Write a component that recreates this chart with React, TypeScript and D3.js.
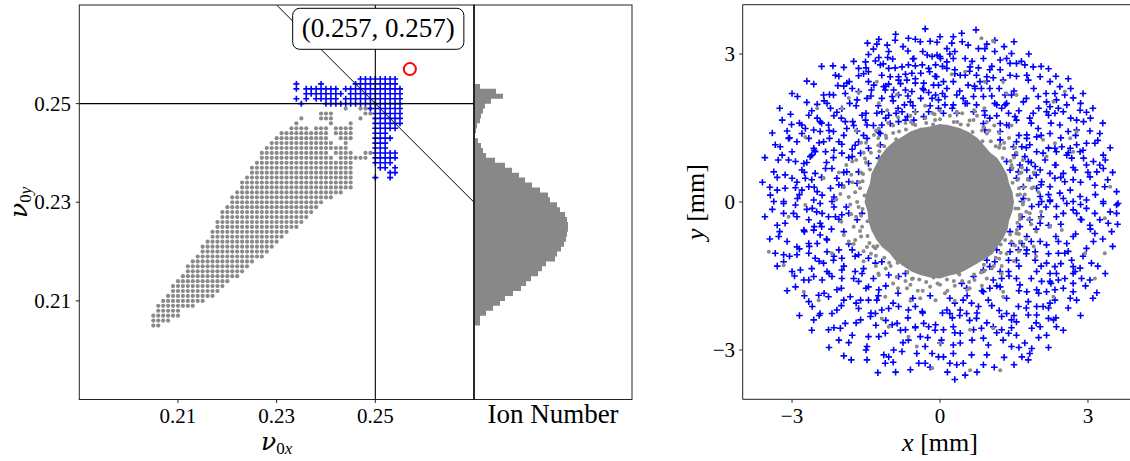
import React from "react";
import * as d3 from "d3";

// ---------------- Left panel: tune lattice (values in 1/1000 tune units) ----------------
// [nu_y, nu_x start, nu_x end] – surviving grid points (gray)
const grayRows: [number, number, number][] = [
  [205, 205, 206], [206, 205, 208], [207, 205, 210], [208, 206, 210], [209, 206, 213],
  [210, 207, 215], [211, 208, 217], [212, 209, 218], [213, 209, 219], [214, 210, 220],
  [215, 211, 222], [216, 212, 223], [217, 212, 224], [218, 213, 225], [219, 214, 227],
  [220, 215, 228], [221, 215, 229], [222, 216, 230], [223, 217, 231], [224, 217, 232],
  [225, 218, 234], [226, 218, 235], [227, 219, 236], [228, 219, 237], [229, 220, 238],
  [230, 221, 239], [231, 221, 241], [232, 222, 243], [233, 223, 245], [234, 223, 245],
  [235, 224, 245], [236, 225, 245], [237, 225, 245], [238, 226, 245],
  [239, 227, 241], [239, 243, 248],
  [240, 227, 240], [240, 242, 245], [240, 248, 249],
  [241, 228, 244],
  [242, 229, 241], [242, 244, 244],
  [243, 230, 240], [243, 243, 245],
  [244, 231, 240], [244, 242, 245],
  [245, 233, 236], [245, 238, 240], [245, 242, 245],
  [246, 234, 234], [246, 241, 241], [246, 245, 245],
  [247, 235, 235], [247, 239, 241], [247, 247, 247],
  [248, 239, 241], [248, 248, 249],
  [249, 244, 244], [249, 247, 249],
];
// [nu_y, nu_x start, nu_x end] – lost grid points (blue crosses)
const blueRows: [number, number, number][] = [
  [255, 247, 254],
  [254, 234, 234], [254, 239, 239], [254, 246, 254],
  [253, 234, 234], [253, 236, 242], [253, 244, 255],
  [252, 236, 243], [252, 245, 255],
  [251, 234, 234], [251, 236, 236], [251, 238, 242], [251, 244, 255],
  [250, 235, 235], [250, 240, 255],
  [249, 249, 255], [248, 250, 255], [247, 250, 255], [246, 250, 255],
  [245, 250, 254], [244, 250, 252], [243, 250, 253], [242, 250, 252],
  [241, 250, 252], [240, 250, 254], [239, 250, 254], [238, 250, 253],
  [237, 251, 252], [237, 254, 254], [236, 253, 254], [235, 250, 250], [235, 253, 253],
];
// histogram of nu_y: bins of 0.001 from 0.205 upward, ion number
const histBinStart = 0.205;
const histBinWidth = 0.001;
const histCounts = [
  60, 60, 120, 190, 260, 310, 390, 470, 520, 570, 640, 680, 720, 810, 830, 870,
  900, 920, 930, 940, 940, 930, 910, 860, 830, 760, 740, 660, 580, 510, 450, 380,
  310, 210, 120, 90, 70, 40, 10, 20, 30, 60, 70, 90, 110, 170, 290, 220, 60,
];
const histMax = 1580;
const xTicksL = [0.21, 0.23, 0.25];
const yTicksL = [0.21, 0.23, 0.25];
const workingPoint = { x: 0.257, y: 0.257 };
const crossTune = 0.25;
const resonanceSum = 0.5;

// ---------------- Right panel: transverse positions (mm) ----------------
const blueUL = [
  -0.30, 3.51, -1.24, 3.30, -0.91, 3.28, -0.64, 3.32, -0.50, 3.30, -0.40, 3.25, -0.20, 3.26, -0.06, 3.24,
  -1.47, 3.22, -1.28, 3.20, -1.07, 3.18, -1.04, 3.05, -1.45, 2.99, -1.24, 2.93, -1.06, 2.93, -0.96, 2.90,
  -0.65, 3.06, -0.53, 2.91, -0.26, 2.98, -0.16, 2.95, -0.06, 2.98, 0.01, 2.91, -1.51, 2.84, -1.31, 2.86,
  -1.65, 2.71, -1.50, 2.72, -1.21, 2.78, -1.04, 2.71, -0.91, 2.72, -0.77, 2.74, -0.64, 2.78, -0.50, 2.76,
  -0.36, 2.78, -0.23, 2.71, -0.09, 2.78, -2.17, 2.76, -1.95, 2.73, -2.12, 2.57, -1.84, 2.44, -1.65, 2.56,
  -1.45, 2.64, -1.18, 2.57, -1.01, 2.54, -0.84, 2.54, -0.70, 2.59, -0.57, 2.61, -0.39, 2.61, -0.21, 2.64,
  -0.07, 2.54, -0.03, 2.37, -2.56, 2.39, -2.07, 2.36, -1.89, 2.41, -1.78, 2.30, -1.45, 2.44, -1.34, 2.37,
  -1.14, 2.34, -1.04, 2.39, -0.84, 2.47, -0.67, 2.47, -0.50, 2.41, -0.33, 2.41, -0.13, 2.37, -2.89, 2.14,
  -2.36, 2.17, -2.24, 2.18, -2.16, 2.17, -1.92, 2.20, -1.65, 2.24, -1.39, 2.27, -1.11, 2.27, -0.94, 2.27,
  -0.70, 2.27, -0.57, 2.24, -0.33, 2.27, -0.23, 2.22, -0.09, 2.17, -2.70, 2.02, -2.49, 1.98, -2.29, 2.00,
  -2.22, 1.90, -1.99, 1.89, -1.83, 2.00, -1.68, 2.07, -1.48, 2.10, -1.18, 2.10, -0.97, 2.14, -0.84, 2.17,
  -0.72, 1.97, -0.60, 2.03, -0.39, 2.10, -0.16, 2.10, -0.03, 2.07, -3.03, 1.78, -3.20, 1.66, -2.66, 1.76,
  -2.49, 1.70, -2.43, 1.63, -2.09, 1.82, -1.92, 1.63, -1.77, 1.63, -1.58, 1.76, -1.51, 1.66, -1.28, 1.80,
  -1.18, 1.83, -1.04, 1.76, -0.89, 1.80, -0.77, 1.83, -0.66, 1.73, -0.50, 1.83, -0.33, 1.73, -0.23, 1.83,
  -0.03, 1.90, -3.01, 1.57, -3.10, 1.44, -2.80, 1.56, -2.73, 1.49, -2.56, 1.46, -2.43, 1.43, -2.26, 1.56,
  -2.16, 1.43, -1.89, 1.49, -1.68, 1.44, -1.48, 1.56, -1.24, 1.41, -1.18, 1.56, -1.01, 1.59, -0.84, 1.63,
  -0.70, 1.66, -0.53, 1.66, -3.34, 1.16, -3.24, 1.12, -3.07, 1.29, -3.00, 1.02, -2.90, 1.22, -2.80, 1.39,
  -2.66, 1.29, -2.56, 1.09, -2.36, 1.22, -2.24, 1.29, -2.05, 1.22, -1.99, 1.17, -1.78, 1.07, -1.65, 1.22,
  -1.48, 1.29, -1.21, 1.39, -3.28, 0.85, -3.07, 0.85, -2.93, 0.82, -2.76, 0.78, -2.63, 0.92, -2.53, 1.02,
  -2.32, 1.02, -2.16, 0.90, -1.99, 0.99, -1.78, 0.92, -1.61, 0.99, -1.45, 1.09, -1.21, 1.16, -3.37, 0.61,
  -3.14, 0.55, -3.00, 0.48, -2.80, 0.65, -2.73, 0.48, -2.53, 0.58, -2.32, 0.68, -2.19, 0.68, -2.09, 0.48,
  -1.89, 0.61, -1.65, 0.61, -1.45, 0.78, -1.24, 0.89, -3.44, 0.14, -3.30, 0.24, -3.14, 0.28, -2.93, 0.29,
  -2.80, 0.24, -2.66, 0.31, -2.49, 0.21, -2.39, 0.14, -2.22, 0.28, -1.99, 0.34, -1.85, 0.41, -1.68, 0.38,
  -3.37, 0.01, -3.17, 0.01, -2.89, 0.07, -2.56, 0.04, -2.43, -0.03, -2.19, 0.01,
];
const blueUR = [
  0.73, 3.49, 0.44, 3.42, 0.27, 3.35, 0.00, 3.35, 1.11, 3.28, 1.50, 3.25, 0.57, 3.18, 0.24, 3.22,
  0.14, 3.11, 0.91, 3.11, 0.78, 3.11, 0.30, 3.05, 1.11, 3.05, 1.45, 3.01, 1.35, 2.91, 0.00, 2.95,
  0.51, 2.91, 0.27, 2.91, 0.88, 2.91, 1.22, 2.88, 1.42, 2.81, 1.55, 2.81, 1.72, 2.78, 1.89, 2.74,
  0.14, 2.84, 0.14, 2.71, 0.30, 2.68, 0.61, 2.74, 0.78, 2.72, 0.41, 2.57, 0.51, 2.57, 0.74, 2.57,
  1.01, 2.68, 1.22, 2.68, 1.42, 2.57, 1.76, 2.57, 2.03, 2.54, 0.07, 2.44, 0.27, 2.44, 0.57, 2.37,
  0.81, 2.44, 0.95, 2.54, 1.08, 2.52, 1.28, 2.47, 1.79, 2.47, 2.23, 2.44, 2.43, 2.34, 0.14, 2.30,
  0.34, 2.17, 0.71, 2.30, 0.84, 2.30, 1.01, 2.30, 1.32, 2.17, 1.45, 2.17, 2.33, 2.20, 2.53, 2.17,
  0.10, 2.14, 0.47, 2.10, 0.68, 2.14, 0.88, 2.14, 1.69, 2.03, 2.16, 2.03, 2.36, 2.07, 2.70, 2.11,
  0.10, 1.97, 0.27, 1.97, 0.51, 2.00, 0.74, 1.97, 1.11, 2.00, 1.32, 1.97, 1.99, 2.14, 2.23, 1.93,
  2.57, 1.97, 0.07, 1.80, 0.34, 1.80, 0.68, 1.83, 0.91, 1.76, 1.15, 1.97, 1.25, 1.90, 1.39, 1.80,
  1.52, 1.73, 1.89, 1.80, 2.16, 1.83, 2.33, 1.80, 2.50, 1.83, 2.84, 1.86, 2.97, 1.82, 1.01, 1.70,
  0.88, 1.59, 1.22, 1.59, 1.55, 1.66, 1.82, 1.70, 2.20, 1.76, 2.77, 1.66, 2.91, 1.63, 0.91, 1.46,
  1.22, 1.43, 1.35, 1.56, 1.76, 1.36, 1.99, 1.49, 2.23, 1.39, 2.43, 1.56, 2.60, 1.43, 2.77, 1.46,
  3.04, 1.44, 3.24, 1.39, 1.22, 1.26, 1.55, 1.22, 1.76, 1.29, 1.96, 1.32, 1.49, 1.12, 1.66, 1.12,
  1.82, 1.16, 2.20, 1.09, 2.33, 1.09, 2.47, 1.12, 2.64, 1.09, 2.77, 1.16, 2.97, 1.19, 3.14, 1.19,
  1.52, 0.95, 1.72, 0.92, 1.96, 1.02, 2.09, 0.99, 2.36, 1.02, 2.57, 0.95, 2.84, 1.02, 3.31, 0.95,
  1.35, 0.82, 1.62, 0.75, 1.79, 0.82, 2.13, 0.85, 2.33, 0.75, 2.67, 0.89, 2.91, 0.89, 3.11, 0.82,
  3.24, 0.75, 1.42, 0.65, 1.59, 0.61, 1.76, 0.65, 1.93, 0.72, 2.03, 0.65, 2.23, 0.58, 2.50, 0.58,
  2.74, 0.65, 2.97, 0.75, 3.18, 0.61, 3.31, 0.68, 1.55, 0.48, 1.82, 0.48, 2.06, 0.41, 2.33, 0.48,
  2.53, 0.41, 2.70, 0.45, 3.04, 0.51, 3.14, 0.34, 3.34, 0.31, 3.58, 0.21, 1.69, 0.31, 1.96, 0.28,
  2.23, 0.31, 2.43, 0.18, 2.64, 0.24, 2.84, 0.11, 2.97, 0.04, 1.69, 0.07, 2.03, 0.11, 2.23, 0.01,
  2.50, 0.07, 2.70, 0.01, 3.31, 0.01, 3.61, -0.03,
];
const blueLL = [
  -3.17, -0.03, -2.93, -0.06, -3.17, -0.23, -2.97, -0.23, -3.30, -0.47, -3.14, -0.43, -2.59, -0.13, -2.39, -0.23,
  -2.66, -0.36, -2.43, -0.43, -2.26, -0.30, -2.12, -0.30, -1.99, -0.26, -1.85, -0.23, -1.68, -0.36, -1.58, -0.23,
  -2.76, -0.57, -2.56, -0.57, -2.43, -0.67, -3.27, -0.70, -3.10, -0.80, -2.90, -0.91, -2.66, -0.84, -2.49, -0.84,
  -2.29, -0.77, -2.05, -0.97, -2.29, -1.01, -1.78, -0.97, -1.65, -1.07, -1.45, -1.14, -1.31, -1.24, -1.18, -1.21,
  -3.34, -1.04, -3.17, -1.07, -3.17, -1.21, -2.90, -1.07, -2.66, -1.04, -2.53, -1.14, -2.36, -1.24, -2.16, -1.18,
  -1.99, -1.14, -3.00, -1.41, -2.83, -1.38, -2.66, -1.58, -2.56, -1.51, -2.93, -1.72, -2.76, -1.58, -2.39, -1.58,
  -2.29, -1.41, -2.19, -1.51, -1.99, -1.38, -1.99, -1.55, -1.72, -1.41, -1.58, -1.45, -1.65, -1.61, -1.45, -1.72,
  -1.24, -1.78, -1.04, -1.48, -0.84, -1.51, -0.70, -1.45, -2.66, -2.02, -2.46, -1.89, -2.26, -1.92, -2.09, -1.78,
  -2.59, -2.12, -2.43, -2.26, -2.19, -2.26, -2.09, -2.19, -1.95, -1.99, -1.82, -1.92, -1.61, -1.99, -1.45, -1.99,
  -1.28, -1.99, -1.65, -2.16, -1.41, -2.32, -1.31, -2.26, -1.18, -2.19, -1.04, -2.16, -0.84, -2.12, -0.64, -2.19,
  -0.50, -2.12, -0.36, -2.22, -2.56, -2.39, -2.26, -2.59, -2.02, -2.56, -1.92, -2.46, -1.78, -2.70, -1.61, -2.39,
  -1.45, -2.73, -1.24, -2.73, -1.11, -2.66, -0.97, -2.49, -0.87, -2.46, -0.70, -2.59, -0.50, -2.53, -0.33, -2.46,
  -0.23, -2.53, -0.09, -2.49, -2.05, -2.80, -1.95, -3.12, -1.48, -2.93, -1.48, -3.20, -1.14, -3.10, -1.04, -3.14,
  -0.94, -3.00, -0.77, -3.03, -0.64, -2.80, -0.47, -3.07, -0.40, -2.73, -0.30, -2.93, -0.16, -3.07, 0.01, -2.86,
  -1.26, -3.46, -1.11, -3.27, -0.43, -3.27, -0.30, -3.27, -0.03, -3.14,
];
const blueLR = [
  1.66, 0.01, 1.86, -0.09, 2.06, 0.01, 2.23, 0.04, 2.36, -0.09, 2.57, -0.03, 2.70, -0.16, 2.97, -0.13,
  3.14, -0.23, 3.31, -0.03, 3.58, -0.06, 3.58, -0.23, 1.66, -0.30, 1.82, -0.36, 2.03, -0.43, 2.20, -0.47,
  2.36, -0.30, 2.50, -0.23, 2.77, -0.23, 2.87, -0.36, 3.04, -0.47, 3.24, -0.36, 3.41, -0.43, 3.48, -0.60,
  3.14, -0.64, 1.42, -0.60, 1.62, -0.50, 1.45, -0.84, 1.66, -0.84, 1.76, -0.70, 2.03, -0.80, 2.16, -0.87,
  2.40, -0.80, 2.57, -0.84, 2.70, -0.70, 2.97, -0.94, 3.11, -0.80, 1.15, -0.97, 1.42, -1.01, 1.59, -0.97,
  1.76, -0.97, 1.93, -1.01, 2.40, -1.04, 2.53, -1.04, 2.67, -1.18, 3.07, -1.24, 0.95, -1.18, 1.11, -1.21,
  1.39, -1.18, 1.55, -1.18, 1.93, -1.18, 2.16, -1.24, 2.33, -1.31, 2.70, -1.31, 2.84, -1.34, 0.88, -1.38,
  1.01, -1.31, 1.22, -1.41, 1.39, -1.41, 1.96, -1.41, 2.23, -1.45, 2.36, -1.45, 2.53, -1.55, 2.74, -1.41,
  2.87, -1.55, 3.04, -1.58, 0.68, -1.51, 1.08, -1.58, 1.25, -1.55, 1.55, -1.55, 1.62, -1.68, 1.76, -1.82,
  1.96, -1.78, 2.06, -1.61, 2.23, -1.61, 2.40, -1.58, 2.70, -1.65, 2.70, -1.82, 3.18, -1.84, 0.44, -1.65,
  0.54, -1.75, 0.88, -1.82, 1.01, -1.75, 1.22, -1.72, 2.16, -1.82, 2.33, -1.78, 2.64, -1.95, 2.77, -1.99,
  0.14, -2.19, 0.30, -2.05, 0.47, -1.99, 0.64, -2.05, 0.78, -2.12, 0.98, -1.99, 1.59, -2.12, 1.79, -2.02,
  1.96, -2.12, 2.09, -2.12, 2.23, -2.05, 2.33, -1.99, 0.20, -2.26, 0.41, -2.19, 0.54, -2.26, 0.74, -2.36,
  1.25, -2.32, 1.35, -2.26, 1.45, -2.39, 1.55, -2.43, 1.79, -2.29, 1.96, -2.29, 2.20, -2.36, 2.30, -2.39,
  2.36, -2.53, 0.07, -2.59, 0.27, -2.53, 0.41, -2.66, 0.68, -2.59, 0.84, -2.56, 1.08, -2.53, 1.25, -2.59,
  1.39, -2.66, 1.55, -2.70, 1.86, -2.56, 2.03, -2.53, 2.16, -2.70, 0.03, -2.80, 0.27, -2.90, 0.41, -2.86,
  0.88, -2.76, 0.98, -2.90, 1.28, -2.80, 1.45, -2.93, 1.72, -2.86, 1.86, -2.97, 0.07, -3.14, 0.27, -3.07,
  0.47, -3.27, 0.64, -3.10, 0.88, -3.30, 0.95, -3.10, 1.66, -3.14, 1.79, -3.20, 1.82, -3.07, 0.20, -3.27,
  0.34, -3.30, 0.51, -3.51,
];
// crosses crowding the ring just outside the core, plus outer stragglers (mm)
const blueRing = [
  -0.20, 1.95, 0.25, 1.90, 0.55, 2.00, 0.90, 1.85, 1.15, 1.75, 1.40, 1.55, 1.60, 1.35, 1.75, 1.10,
  1.85, 0.80, 1.95, 0.55, 2.05, 0.35, 2.20, 0.15, -0.55, 1.95, -0.85, 1.90, -1.10, 1.70, -1.35, 1.55,
  -1.55, 1.35, -1.72, 1.15, -1.85, 0.90, -1.95, 0.60, -2.05, 0.35, -2.15, 0.10, 0.05, 2.20, 0.40, 2.25,
  0.70, 2.35, 1.05, 2.15, 1.35, 2.00, 1.60, 1.85, 1.85, 1.60, 2.05, 1.35, 2.20, 1.10, 2.35, 0.75,
  2.45, 0.50, -0.35, 2.30, -0.65, 2.15, -0.95, 2.05, -1.25, 1.95, -1.50, 1.80, -1.75, 1.55, -1.95, 1.35,
  -2.15, 1.05, -2.30, 0.80, -2.40, 0.50, -2.55, 0.30, -0.10, 2.55, 0.30, 2.60, 0.60, 2.65, 0.95, 2.45,
  1.20, 2.30, 1.50, 2.25, 1.75, 2.10, 2.00, 1.90, 2.25, 1.60, 2.45, 1.30, 2.60, 1.00, 2.70, 0.70,
  2.85, 0.40, -0.50, 2.50, -0.80, 2.40, -1.10, 2.35, -1.40, 2.15, -1.70, 1.95, -2.00, 1.70, -2.25, 1.45,
  -2.45, 1.20, -2.60, 0.95, -2.75, 0.60, -2.90, 0.40,
  -0.20, -1.90, 0.20, -1.95, 0.55, -1.90, 0.85, -1.80, 1.15, -1.70, 1.40, -1.50, 1.60, -1.30, 1.75, -1.05,
  1.85, -0.80, 1.95, -0.55, 2.05, -0.30, 2.15, -0.10, -0.55, -1.95, -0.85, -1.85, -1.10, -1.70, -1.35, -1.55,
  -1.55, -1.35, -1.72, -1.10, -1.85, -0.85, -1.95, -0.60, -2.05, -0.35, -2.15, -0.10, 0.05, -2.25, 0.40, -2.30,
  0.75, -2.25, 1.05, -2.10, 1.35, -1.95, 1.60, -1.80, 1.85, -1.55, 2.05, -1.30, 2.20, -1.05, 2.35, -0.70,
  2.45, -0.45, -0.35, -2.25, -0.65, -2.35, -0.95, -2.05, -1.25, -1.90, -1.50, -1.75, -1.75, -1.55, -1.95, -1.30,
  -2.15, -1.10, -2.30, -0.75, -2.40, -0.50, -2.50, -0.20, -0.10, -2.60, 0.30, -2.65, 0.60, -2.40, 0.95, -2.45,
  1.20, -2.20, 1.50, -2.30, 1.75, -2.15, 2.00, -1.85, 2.25, -1.65, 2.45, -1.25, 2.60, -1.00, 2.75, -0.65,
  2.85, -0.35, -0.50, -2.55, -0.80, -2.60, -1.10, -2.40, -1.40, -2.25, -1.70, -2.05, -2.00, -1.75, -2.25, -1.45,
  -2.45, -1.20, -2.65, -0.90, -2.75, -0.60, -2.90, -0.30,
  0.20, 3.00, -0.90, 3.40, 1.80, 3.00, 2.20, 2.70, 2.60, 2.50, 2.90, 2.20, 3.10, 1.90, 3.30, 1.60,
  3.45, 1.10, 3.50, 0.60, -2.40, 2.75, -2.70, 2.45, -3.00, 2.20, -3.25, 1.90, -3.40, 1.40, -3.55, 0.90,
  -3.60, 0.40, -3.55, -0.30, -3.45, -0.75, -3.30, -1.30, -3.10, -1.80, -2.85, -2.30, -2.60, -2.60, -2.25, -2.95,
  -1.80, -3.20, -0.90, -3.45, 0.30, -3.60, 1.10, -3.35, 1.50, -3.30, 2.20, -2.95, 2.50, -2.60, 2.85, -2.30,
  3.10, -1.95, 3.35, -1.45, 3.50, -0.90, 3.60, -0.45,
];
// further crosses in the middle of the ring (mm)
const blueMid = [
  -2.05, 2.55, -1.75, 2.85, -1.35, 3.10, -0.75, 3.15, -0.35, 3.05, 0.45, 3.25, 0.95, 3.20, 1.30, 3.15,
  1.65, 2.85, 2.05, 2.75, 2.35, 2.55, 2.65, 2.30, 2.85, 2.00, 3.05, 1.70, 3.20, 1.25, 3.35, 0.85,
  3.40, 0.45, -2.35, 2.05, -2.60, 1.85, -2.85, 1.60, -3.05, 1.30, -3.20, 0.95, -3.30, 0.50, -3.45, 0.30,
  -1.95, 2.35, -1.55, 2.60, -1.15, 2.80, -0.55, 2.90, 0.05, 2.75, 0.65, 2.85, 1.05, 2.75, 1.55, 2.55,
  1.90, 2.30, 2.15, 2.20, 2.40, 1.90, 2.65, 1.70, 2.75, 1.35, 2.90, 1.05, 3.00, 0.60, 3.15, 0.15,
  -2.15, 1.75, -2.40, 1.60, -2.55, 1.05, -2.70, 0.80, -2.85, 0.15, -2.60, 0.45,
  -3.40, -0.15, -3.25, -0.60, -3.05, -1.10, -2.95, -1.50, -2.75, -1.90, -2.45, -2.30, -2.15, -2.55, -1.85, -2.85,
  -1.50, -3.00, -0.95, -3.25, -0.60, -3.40, -0.20, -3.35, 0.15, -3.45, 0.75, -3.45, 1.30, -3.15, 1.60, -2.95,
  2.00, -2.75, 2.35, -2.35, 2.60, -2.15, 2.95, -1.70, 3.20, -1.30, 3.30, -0.75, 3.45, -0.20,
  -2.85, -0.95, -2.60, -1.35, -2.35, -1.85, -2.00, -2.10, -1.70, -2.45, -1.30, -2.50, -0.75, -2.85, -0.25, -2.75,
  0.25, -2.35, 0.65, -2.80, 1.15, -2.65, 1.45, -2.55, 1.95, -2.45, 2.20, -2.15, 2.50, -1.75, 2.70, -1.45,
  2.90, -1.10, 3.05, -0.55, 2.85, -0.05, -2.55, -0.50, -2.70, -0.15, -2.20, -0.55, -1.90, -0.10, 2.00, -0.05,
];
// scattered gray ions outside the dense core (mm)
const grayOuter = [
  -1.28, 2.44, -1.65, 2.22, -1.85, 2.11, -2.49, 1.90, -2.73, 1.32, -1.99, 1.90, -1.07, 1.86, -0.50, 1.56,
  -1.24, 1.49, -1.78, 0.82, -2.36, 0.48, -2.02, 0.16, -1.24, 2.00, -0.87, 2.18, -0.11, 1.78, -1.34, 1.36,
  0.84, 3.32, 1.08, 3.26, 0.24, 2.59, 0.51, 2.64, 0.91, 2.44, 1.28, 2.44, 1.35, 2.20, 1.55, 2.17,
  2.53, 2.24, 2.30, 2.03, 0.34, 1.83, 0.68, 1.66, 0.95, 1.39, 1.22, 1.16, 2.09, 1.26, 2.33, 1.19,
  2.64, 1.29, 2.77, 1.43, 2.70, 1.02, 2.16, 0.92, 3.45, 0.31, 1.86, 0.28,
  -3.47, -1.01, -3.17, -1.28, -3.07, -0.30, -2.73, -0.06, -1.95, -0.67, -1.72, -0.77, -1.48, -0.91, -1.31, -0.94,
  -1.24, -1.48, -1.11, -1.92, -0.67, -1.75, -0.60, -1.68, -0.40, -1.95, -0.09, -1.99, -1.18, -2.36, -1.04, -2.53,
  -0.64, -2.73, -0.47, -2.93, -0.16, -3.37, -2.46, -1.99, -2.76, -1.82, -2.19, -1.04,
  1.59, -0.13, 1.62, -0.26, 2.03, -0.33, 2.23, -0.50, 2.47, -0.57, 3.34, -1.04, 2.94, -1.04, 3.14, -1.55,
  3.34, -0.33, 1.28, -1.82, 1.28, -1.92, 1.62, -0.80, 1.32, -0.77, 1.55, -0.64, 1.82, -0.23, 1.08, -2.56,
  0.61, -2.59, 0.00, -2.86, 0.61, -3.41, 1.22, -3.41, 2.30, -1.92,
];
// gray ions forming the ragged edge of the core (mm)
const grayEdge = [
  1.70, 0.30, 1.75, -0.20, 1.65, 0.60, 1.50, 0.90, 1.30, 1.20, 1.00, 1.45, 0.60, 1.65, 0.20, 1.75,
  -0.30, 1.70, -0.70, 1.60, -1.10, 1.35, -1.40, 1.00, -1.60, 0.60, -1.72, 0.20, -1.70, -0.30, -1.60, -0.70,
  -1.40, -1.05, -1.10, -1.35, -0.70, -1.60, -0.20, -1.72, 0.30, -1.70, 0.70, -1.58, 1.05, -1.35, 1.35, -1.05,
  1.60, -0.65, 1.80, 0.05, 1.85, -0.45, 1.78, 0.45, -1.82, -0.05, -1.78, 0.40, -1.75, -0.50, 0.00, 1.85,
  0.45, 1.80, -0.50, 1.82, 0.10, -1.85, -0.45, -1.80, 0.55, -1.78, 1.20, 1.40, -1.25, 1.30, -1.30, -1.30,
  1.25, -1.30, 1.55, 1.00, -1.55, 1.00, -1.55, -1.00, 1.60, -1.00, 1.90, -0.90, 2.00, 0.20, 1.95, -0.60,
  -2.00, -0.40, -1.95, 0.30, 1.62, 0.15, 1.58, 0.45, 1.45, 0.75, 1.20, 1.10, 0.85, 1.45, 0.35, 1.62,
  -0.10, 1.66, -0.55, 1.58, -0.95, 1.40, -1.25, 1.15, -1.50, 0.80, -1.64, 0.40, -1.65, -0.10, -1.58, -0.50,
  -1.35, -0.90, -1.00, -1.30, -0.55, -1.55, -0.05, -1.65, 0.45, -1.60, 0.90, -1.40, 1.20, -1.15, 1.45, -0.80,
  1.62, -0.35, 1.68, 0.85, 0.95, 1.62, -0.85, 1.72, -1.60, 1.20, -1.85, -0.80, -0.95, -1.65, 0.85, -1.70,
  1.75, -0.75, 1.90, 0.60, -1.05, 1.60, 0.70, 1.85, -1.90, 0.75,
  1.72, 0.15, 1.68, -0.05, 1.66, 0.70, 1.52, 1.10, 1.40, 1.30, 1.10, 1.55, 0.75, 1.75, 0.35, 1.80,
  -0.15, 1.80, -0.60, 1.75, -0.95, 1.55, -1.30, 1.45, -1.50, 1.20, -1.70, 0.85, -1.80, 0.55, -1.85, 0.10,
  -1.80, -0.25, -1.75, -0.85, -1.55, -1.20, -1.25, -1.45, -0.85, -1.75, -0.35, -1.80, 0.15, -1.80, 0.60, -1.75,
  0.95, -1.55, 1.25, -1.45, 1.50, -1.20, 1.70, -0.90, 1.80, -0.35, 1.90, 0.30, 2.05, -0.20, -2.10, 0.05,
  -2.05, 0.60, 0.30, -2.00, -0.60, -2.00, 0.90, 1.90, -0.30, 1.95, 1.95, -1.10, -1.70, 1.45, 1.45, 1.55,
  1.57, 0.14, 1.47, 0.39, 1.47, 0.69, 1.27, 0.89, 1.13, 1.13, 0.86, 1.23, 0.66, 1.42, 0.42, 1.57,
  0.13, 1.53, -0.14, 1.57, -0.39, 1.47, -0.69, 1.47, -0.89, 1.27, -1.13, 1.13, -1.23, 0.86, -1.42, 0.66,
  -1.57, 0.42, -1.53, 0.13, -1.57, -0.14, -1.47, -0.39, -1.47, -0.69, -1.27, -0.89, -1.13, -1.13, -0.86, -1.23,
  -0.66, -1.42, -0.42, -1.57, -0.13, -1.53, 0.14, -1.57, 0.39, -1.47, 0.69, -1.47, 0.89, -1.27, 1.13, -1.13,
  1.23, -0.86, 1.42, -0.66, 1.57, -0.42, 1.53, -0.13,
  1.68, 0.00, 1.60, 0.28, 1.62, 0.59, 1.43, 0.83, 1.30, 1.09, 1.03, 1.23, 0.88, 1.52, 0.57, 1.56,
  0.28, 1.62, 0.00, 1.68, -0.28, 1.60, -0.59, 1.62, -0.83, 1.43, -1.09, 1.30, -1.23, 1.03, -1.52, 0.88,
  -1.56, 0.57, -1.62, 0.28, -1.68, 0.00, -1.60, -0.28, -1.62, -0.59, -1.43, -0.83, -1.30, -1.09, -1.03, -1.23,
  -0.88, -1.52, -0.57, -1.56, -0.28, -1.62, 0.00, -1.68, 0.28, -1.60, 0.59, -1.62, 0.83, -1.43, 1.09, -1.30,
  1.23, -1.03, 1.52, -0.88, 1.56, -0.57, 1.62, -0.28,
];
// outline of the dense gray core (mm)
const coreOutline = [
  1.50, 0.00, 1.47, 0.20, 1.40, 0.38, 1.36, 0.56, 1.26, 0.74, 1.16, 0.89, 1.01, 1.01, 0.89, 1.15,
  0.76, 1.30, 0.58, 1.42, 0.40, 1.50, 0.20, 1.55, 0.00, 1.58, -0.20, 1.53, -0.40, 1.50, -0.60, 1.43,
  -0.76, 1.33, -0.94, 1.22, -1.09, 1.09, -1.21, 0.93, -1.30, 0.75, -1.39, 0.58, -1.42, 0.38, -1.49, 0.19,
  -1.53, 0.00, -1.47, -0.19, -1.45, -0.39, -1.39, -0.58, -1.30, -0.75, -1.18, -0.91, -1.03, -1.03, -0.91, -1.18,
  -0.75, -1.30, -0.58, -1.41, -0.40, -1.48, -0.20, -1.53, 0.00, -1.55, 0.19, -1.49, 0.39, -1.45, 0.56, -1.36,
  0.73, -1.26, 0.90, -1.16, 1.06, -1.06, 1.17, -0.90, 1.28, -0.74, 1.37, -0.56, 1.40, -0.38, 1.47, -0.19,
];
const ticksR = [-3, 0, 3];

const pairs = (a: number[]) => d3.range(0, a.length, 2).map((i) => [a[i], a[i + 1]] as [number, number]);
const expandRows = (rows: [number, number, number][]) =>
  rows.flatMap(([y, x0, x1]) => d3.range(x0, x1 + 1).map((x) => [x / 1000, y / 1000] as [number, number]));

const FONT = "'Liberation Serif', 'Times New Roman', serif";
const GREEK = "'DejaVu Serif', serif";
const AX = "#222";

export default function App() {
  const xL = d3.scaleLinear().domain([0.19, 0.27]).range([79.3, 474]);
  const yL = d3.scaleLinear().domain([0.19, 0.27]).range([399.5, 5]);
  const xH = d3.scaleLinear().domain([0, histMax]).range([474, 632]);
  const xR = d3.scaleLinear().domain([-4, 4]).range([742.7, 1137.3]);
  const yR = d3.scaleLinear().domain([-4, 4]).range([399.3, 4.7]);

  const grayPts = expandRows(grayRows);
  const bluePts = expandRows(blueRows);
  const blueR = [
    ...pairs(blueUL), ...pairs(blueUR), ...pairs(blueLL), ...pairs(blueLR), ...pairs(blueRing), ...pairs(blueMid),
  ];
  const grayR = [...pairs(grayOuter), ...pairs(grayEdge)];
  const core = pairs(coreOutline);
  const coreLine = d3
    .line<[number, number]>()
    .x((d) => xR(d[0]))
    .y((d) => yR(d[1]))
    .curve(d3.curveLinearClosed);

  // histogram as one stepped outline
  const histPts: [number, number][] = [[0, histBinStart]];
  histCounts.forEach((c, i) => {
    histPts.push([c, histBinStart + i * histBinWidth]);
    histPts.push([c, histBinStart + (i + 1) * histBinWidth]);
  });
  histPts.push([0, histBinStart + histCounts.length * histBinWidth]);
  const histPath = d3
    .line<[number, number]>()
    .x((d) => xH(d[0]))
    .y((d) => yL(d[1]))(histPts) + "Z";

  const [dx0, dx1] = xL.domain();
  const [dy0, dy1] = yL.domain();
  const resA: [number, number] = [resonanceSum - dy1, dy1];
  const resB: [number, number] = [dx1, resonanceSum - dx1];

  const annX = xL(workingPoint.x) - 31.6;
  const annY = yL(workingPoint.y) - 40.3;

  const cross = (cx: number, cy: number, s: number) => `M${cx - s},${cy}H${cx + s}M${cx},${cy - s}V${cy + s}`;
  const fmtR = (t: number) => (t < 0 ? "\u2212" + Math.abs(t) : String(t));

  return (
    <svg
      width={1130}
      height={461}
      style={{ position: "absolute", left: 0, top: 0, background: "#fff" }}
      fontFamily={FONT}
    >
      <rect x={0} y={0} width={1130} height={461} fill="#fff" />
      <defs>
        <clipPath id="clipL">
          <rect x={xL(dx0)} y={yL(dy1)} width={xL(dx1) - xL(dx0)} height={yL(dy0) - yL(dy1)} />
        </clipPath>
        <clipPath id="clipR">
          <rect x={xR(-4)} y={yR(4)} width={xR(4) - xR(-4)} height={yR(-4) - yR(4)} />
        </clipPath>
      </defs>

      {/* ---------- left main axes ---------- */}
      <g>
        {grayPts.map(([x, y], i) => (
          <circle key={"g" + i} cx={xL(x)} cy={yL(y)} r={2.1} fill="#8a8a8a" />
        ))}
        <path
          d={bluePts.map(([x, y]) => cross(xL(x), yL(y), 3)).join("")}
          stroke="#0000ff"
          strokeWidth={1.6}
          fill="none"
        />
        <g clipPath="url(#clipL)">
          <line x1={xL(resA[0])} y1={yL(resA[1])} x2={xL(resB[0])} y2={yL(resB[1])} stroke="#000" strokeWidth={1} />
          <line x1={xL(dx0)} x2={xL(dx1)} y1={yL(crossTune)} y2={yL(crossTune)} stroke="#000" strokeWidth={1.1} />
          <line x1={xL(crossTune)} x2={xL(crossTune)} y1={yL(dy0)} y2={yL(dy1)} stroke="#000" strokeWidth={1.1} />
        </g>
        <circle cx={xL(workingPoint.x)} cy={yL(workingPoint.y)} r={6} fill="none" stroke="#ff0000" strokeWidth={2} />
        <rect x={annX - 85.6} y={annY - 20.5} width={171.2} height={41} rx={7} fill="#fff" stroke="#000" strokeWidth={1} />
        <text x={annX} y={annY + 8.2} fontSize={27} textAnchor="middle">
          ({workingPoint.x.toFixed(3)}, {workingPoint.y.toFixed(3)})
        </text>
        <rect
          x={xL(dx0)}
          y={yL(dy1)}
          width={xL(dx1) - xL(dx0)}
          height={yL(dy0) - yL(dy1)}
          fill="none"
          stroke={AX}
          strokeWidth={1}
        />
        {xTicksL.map((t) => (
          <g key={"xt" + t}>
            <line x1={xL(t)} x2={xL(t)} y1={yL(dy0)} y2={yL(dy0) + 3.5} stroke={AX} />
            <text x={xL(t)} y={423} fontSize={21} textAnchor="middle">
              {t.toFixed(2)}
            </text>
          </g>
        ))}
        {yTicksL.map((t) => (
          <g key={"yt" + t}>
            <line x1={xL(dx0) - 3.5} x2={xL(dx0)} y1={yL(t)} y2={yL(t)} stroke={AX} />
            <text x={71} y={yL(t) + 7} fontSize={21} textAnchor="end">
              {t.toFixed(2)}
            </text>
          </g>
        ))}
        <text x={(xL(dx0) + xL(dx1)) / 2} y={450} fontSize={25} textAnchor="middle">
          <tspan fontFamily={GREEK} fontStyle="italic">ν</tspan>
          <tspan fontSize={17} dy={4}>0</tspan>
          <tspan fontSize={17} fontStyle="italic">x</tspan>
        </text>
        <text transform={`translate(27,${(yL(dy0) + yL(dy1)) / 2}) rotate(-90)`} fontSize={25} textAnchor="middle">
          <tspan fontFamily={GREEK} fontStyle="italic">ν</tspan>
          <tspan fontSize={17} dy={4}>0</tspan>
          <tspan fontSize={17} fontStyle="italic">y</tspan>
        </text>
      </g>

      {/* ---------- histogram axes ---------- */}
      <g>
        <path d={histPath} fill="#888888" />
        <rect
          x={xH(0)}
          y={yL(dy1)}
          width={xH(histMax) - xH(0)}
          height={yL(dy0) - yL(dy1)}
          fill="none"
          stroke={AX}
          strokeWidth={1}
        />
        <line x1={xH(0)} x2={xH(0)} y1={yL(dy1)} y2={yL(dy0)} stroke="#000" strokeWidth={1.1} />
        <text x={(xH(0) + xH(histMax)) / 2} y={423} fontSize={27} textAnchor="middle">
          Ion Number
        </text>
      </g>

      {/* ---------- right panel ---------- */}
      <g clipPath="url(#clipR)">
        <path d={blueR.map(([x, y]) => cross(xR(x), yR(y), 3.3)).join("")} stroke="#0000ff" strokeWidth={1.6} fill="none" />
        <path d={coreLine(core) || ""} fill="#888888" />
        {grayR.map(([x, y], i) => (
          <circle key={"gr" + i} cx={xR(x)} cy={yR(y)} r={2} fill="#8a8a8a" />
        ))}
      </g>
      <g>
        <line x1={xR(-4)} x2={xR(-4)} y1={yR(4)} y2={yR(-4)} stroke={AX} />
        <line x1={xR(-4)} x2={1130} y1={yR(4)} y2={yR(4)} stroke={AX} />
        <line x1={xR(-4)} x2={1130} y1={yR(-4)} y2={yR(-4)} stroke={AX} />
        {ticksR.map((t) => (
          <g key={"rx" + t}>
            <line x1={xR(t)} x2={xR(t)} y1={yR(-4)} y2={yR(-4) + 3.5} stroke={AX} />
            <text x={xR(t)} y={423} fontSize={21} textAnchor="middle">
              {fmtR(t)}
            </text>
            <line x1={xR(-4) - 3.5} x2={xR(-4)} y1={yR(t)} y2={yR(t)} stroke={AX} />
            <text x={735} y={yR(t) + 7} fontSize={21} textAnchor="end">
              {fmtR(t)}
            </text>
          </g>
        ))}
        <text x={xR(0)} y={451} fontSize={26} textAnchor="middle">
          <tspan fontStyle="italic">x</tspan> [mm]
        </text>
        <text transform={`translate(704,${yR(0)}) rotate(-90)`} fontSize={26} textAnchor="middle">
          <tspan fontStyle="italic">y</tspan> [mm]
        </text>
      </g>
    </svg>
  );
}
